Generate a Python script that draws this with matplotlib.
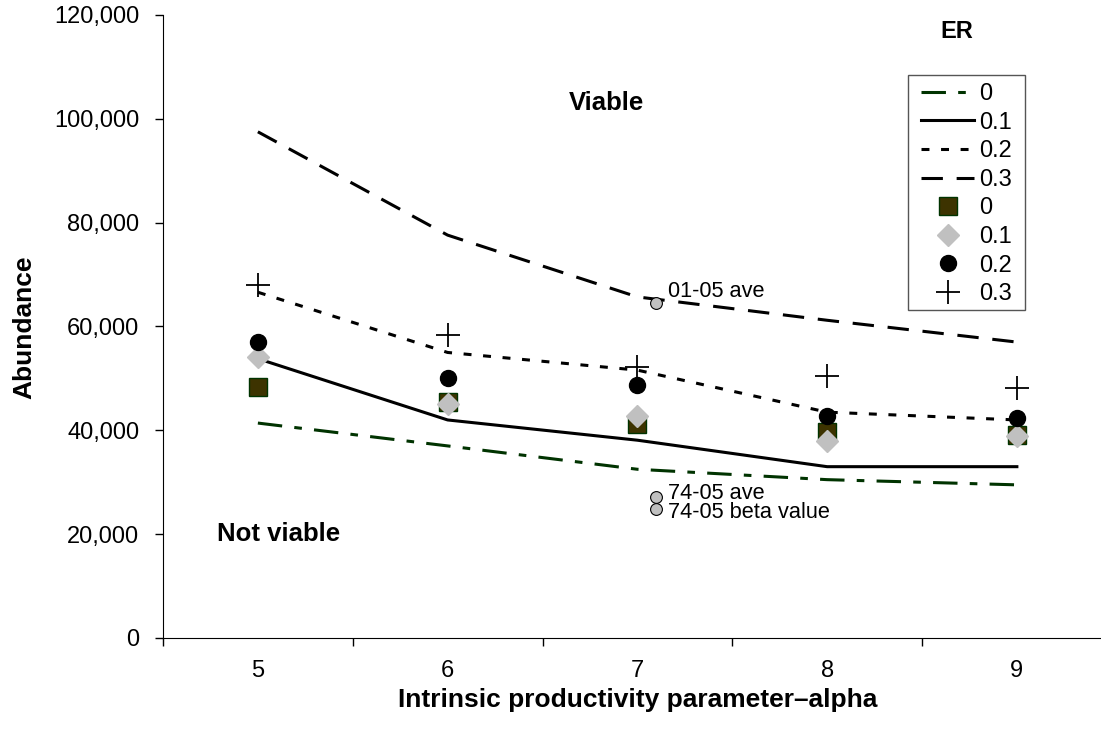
import matplotlib
matplotlib.use("Agg")
import matplotlib.pyplot as plt
from matplotlib.patches import Rectangle
from matplotlib.ticker import FuncFormatter, FixedLocator

plt.rcParams['font.family'] = ['Liberation Sans', 'DejaVu Sans']

alpha = [5, 6, 7, 8, 9]
er_labels = ["0", "0.1", "0.2", "0.3"]

line_er0 = [41400, 37000, 32500, 30500, 29500]
line_er01 = [53800, 42000, 38100, 33000, 33000]
line_er02 = [66600, 55000, 51600, 43500, 42000]
line_er03 = [97500, 77600, 65700, 61200, 57000]

pts_er0 = [48300, 45400, 41300, 39700, 39100]
pts_er01 = [54100, 45100, 42800, 38000, 38900]
pts_er02 = [57000, 50100, 48700, 42800, 42400]
pts_er03 = [68000, 58400, 52200, 50500, 48200]

ref_x = 7.1
ref_vals = [64600, 27200, 24800]
ref_labels = ["01-05 ave", "74-05 ave", "74-05 beta value"]

W, H = 1101, 731
fig = plt.figure(figsize=(W / 100, H / 100), dpi=100)
ax = fig.add_axes([163 / W, 93 / H, 948.75 / W, 623 / H])

green = '#003300'
ax.plot(alpha, line_er0, color=green, lw=2.2, dashes=(8, 4, 2.5, 4), label=er_labels[0])
ax.plot(alpha, line_er01, color='black', lw=2.2, label=er_labels[1])
ax.plot(alpha, line_er02, color='black', lw=2.2, dashes=(2.6, 3.8), label=er_labels[2])
ax.plot(alpha, line_er03, color='black', lw=2.2, dashes=(7, 4.5), label=er_labels[3])

ax.plot(alpha, pts_er0, ls='none', marker='s', ms=13.5, mfc='#3d3300', mec=green, mew=1, label=er_labels[0])
ax.plot(alpha, pts_er01, ls='none', marker='D', ms=11, mfc='#c0c0c0', mec='#c0c0c0', label=er_labels[1])
ax.plot(alpha, pts_er02, ls='none', marker='o', ms=11.5, mfc='black', mec='black', label=er_labels[2])
ax.plot(alpha, pts_er03, ls='none', marker='+', ms=17, mew=1.3, color='black', label=er_labels[3])

ax.plot([ref_x] * 3, ref_vals, ls='none', marker='o', ms=8.5, mfc='#c0c0c0', mec='black', mew=0.8)
ax.text(7.163, 65700, ref_labels[0], fontsize=15.7, ha='left', va='baseline')
ax.text(7.163, 26800, ref_labels[1], fontsize=15.7, ha='left', va='baseline')
ax.text(7.163, 23100, ref_labels[2], fontsize=15.7, ha='left', va='baseline')

ax.text(6.835, 101700, "Viable", fontsize=18.5, fontweight='bold', ha='center', va='baseline')
ax.text(5.107, 18700, "Not viable", fontsize=18.5, fontweight='bold', ha='center', va='baseline')

ax.set_xlim(4.5, 9.5)
ax.set_ylim(0, 120000)
ax.set_yticks(range(0, 120001, 20000))
ax.yaxis.set_major_formatter(FuncFormatter(lambda v, p: f"{int(v):,}"))
ax.xaxis.set_major_locator(FixedLocator([4.5, 5.5, 6.5, 7.5, 8.5, 9.5]))
ax.xaxis.set_major_formatter(FuncFormatter(lambda v, p: ""))
ax.xaxis.set_minor_locator(FixedLocator(alpha))
ax.xaxis.set_minor_formatter(FuncFormatter(lambda v, p: f"{int(v)}"))
ax.tick_params(axis='x', which='major', length=6, width=1, direction='out')
ax.tick_params(axis='x', which='minor', length=0, labelsize=17, pad=16)
ax.tick_params(axis='y', length=6, width=1, direction='out', labelsize=17, pad=11)
for s in ['top', 'right']:
    ax.spines[s].set_visible(False)

fig.text(638 / W, 1 - 707 / H, "Intrinsic productivity parameter\u2013alpha", fontsize=19,
         fontweight='bold', ha='center', va='baseline')
fig.text(24 / W, 1 - 327 / H, "Abundance", fontsize=19, fontweight='bold',
         ha='center', va='center', rotation=90)

# legend frame
fig.patches.append(Rectangle((908 / W, 1 - 310 / H), 117 / W, 235 / H, transform=fig.transFigure,
                             facecolor='white', edgecolor='#555555', lw=1, zorder=3))
handles, labels = ax.get_legend_handles_labels()
leg = fig.legend(handles[:8], labels[:8], loc='upper left', bbox_to_anchor=(921 / W, 1 - 83 / H),
                 fontsize=17, frameon=False, handlelength=2.25, handletextpad=0.21,
                 labelspacing=0.28, borderpad=0, borderaxespad=0)
leg.set_zorder(4)
fig.text(957 / W, 1 - 31 / H, "ER", fontsize=17, fontweight='bold', ha='center', va='center')

fig.savefig("out.png", dpi=100)
